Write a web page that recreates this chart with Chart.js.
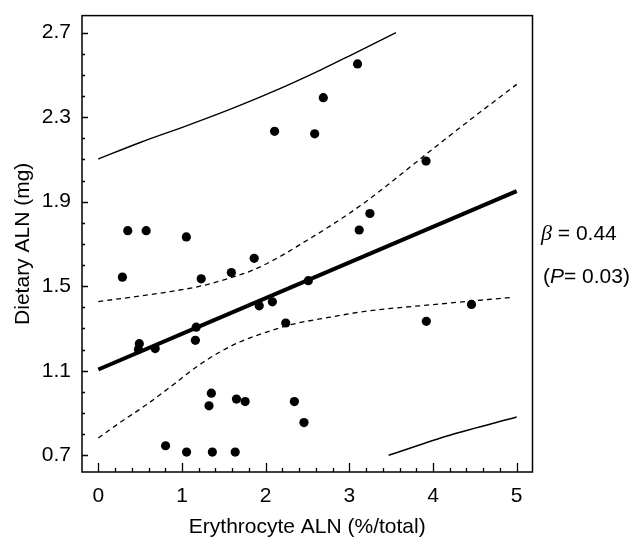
<!DOCTYPE html>
<html>
<head>
<meta charset="utf-8">
<script src="https://cdn.jsdelivr.net/npm/chart.js@4.4.1/dist/chart.umd.min.js"></script>
<style>
  html, body { margin: 0; padding: 0; background: #fff; }
</style>
</head>
<body>
<canvas id="aln_chart" width="644" height="538"></canvas>
<script>
// erythrocyte ALN (%/total) vs dietary ALN (mg), one point per subject
var erythrocyte_aln = [0.288, 0.352, 0.572, 1.052, 1.23, 0.49, 0.48, 0.68, 1.17, 1.16,
                       1.59, 1.863, 1.923, 2.08, 2.51, 2.24, 1.351, 1.323, 1.651, 1.755,
                       2.343, 0.804, 1.055, 1.363, 1.636, 2.458, 3.917, 3.246, 3.118, 3.098,
                       2.689, 2.586, 2.107, 3.92, 4.46]
var dietary_aln = [1.543, 1.763, 1.763, 1.733, 1.535, 1.228, 1.20, 1.205, 1.306, 1.244,
                   1.565, 1.632, 1.407, 1.426, 1.526, 1.326, 0.994, 0.934, 0.966, 0.954,
                   0.954, 0.745, 0.715, 0.715, 0.715, 0.855, 2.092, 1.844, 1.766, 2.552,
                   2.392, 2.221, 2.233, 1.334, 1.414]

// fitted line
var fit_x = [0, 5]
var fit_y = [1.106, 1.95]

// confidence band of the fit (dashed)
var ci_upper_x = [0, 0.817, 1.215, 1.574, 1.853, 2.17, 2.41, 2.81, 3.208, 3.607, 3.926, 4.40, 5.0]
var ci_upper_y = [1.427, 1.472, 1.50, 1.539, 1.577, 1.64, 1.697, 1.795, 1.903, 2.026, 2.127, 2.274, 2.455]
var ci_lower_x = [0, 0.26, 0.578, 0.896, 1.176, 1.454, 1.69, 2.01, 2.33, 2.65, 3.208, 4.0, 4.96]
var ci_lower_y = [0.782, 0.855, 0.94, 1.034, 1.119, 1.189, 1.236, 1.283, 1.321, 1.345, 1.382, 1.413, 1.448]

// prediction band (solid thin)
var pi_upper_x = [0, 0.5, 1.06, 1.58, 2.1, 2.66, 3.02, 3.557]
var pi_upper_y = [2.102, 2.18, 2.26, 2.338, 2.423, 2.524, 2.594, 2.70]
var pi_lower_x = [3.47, 4.2, 5.0]
var pi_lower_y = [0.70, 0.795, 0.881]

var x_ticks = [0, 1, 2, 3, 4, 5]
var y_ticks = [0.7, 1.1, 1.5, 1.9, 2.3, 2.7]

var stat_beta = '0.44'
var stat_p = '0.03'

function pairs(xs, ys) {
    var out = []
    for (let i = 0; i < xs.length; i++) {
        out.push({x: xs[i], y: ys[i]})
    }
    return out
}

var font_name = '"Liberation Sans", Arial, Helvetica, sans-serif'

function lineSet(pts, width, dash) {
    return {
        type: 'line',
        data: pts,
        borderColor: '#000',
        borderWidth: width,
        borderDash: dash,
        pointRadius: 0,
        fill: false,
        cubicInterpolationMode: 'monotone',
        order: 2
    }
}

// box round the plot, inward tick marks, beta / P text
const framePlugin = {
    id: 'frame',
    afterDraw(chart) {
        const ctx = chart.ctx
        const a = chart.chartArea
        const xs = chart.scales.x
        const ys = chart.scales.y
        ctx.save()
        ctx.strokeStyle = '#000'
        ctx.lineWidth = 1.5
        ctx.strokeRect(a.left, a.top, a.right - a.left, a.bottom - a.top)

        ctx.lineWidth = 1.3
        ctx.beginPath()
        for (let i = 0; i <= 25; i++) {
            var v = i * 0.2
            var px = Math.round(xs.getPixelForValue(v)) + 0.5
            var len = (i % 5 === 0) ? 9 : 4
            ctx.moveTo(px, a.bottom)
            ctx.lineTo(px, a.bottom - len)
        }
        for (let i = 0; i <= 20; i++) {
            var v = 0.7 + i * 0.1
            var py = Math.round(ys.getPixelForValue(v)) + 0.5
            var len = (i % 4 === 0) ? 6 : 3
            ctx.moveTo(a.left, py)
            ctx.lineTo(a.left + len, py)
        }
        ctx.stroke()

        ctx.fillStyle = '#000'
        ctx.textBaseline = 'alphabetic'
        ctx.textAlign = 'left'
        var x0 = 541
        ctx.font = 'italic 22px "Liberation Serif", "DejaVu Serif", serif'
        ctx.fillText('\u03b2', x0, 239.5)
        var bw = ctx.measureText('\u03b2').width
        ctx.font = '21px ' + font_name
        ctx.fillText(' = ' + stat_beta, x0 + bw, 239.5)

        var x1 = 543
        ctx.fillText('(', x1, 282.5)
        var w1 = ctx.measureText('(').width
        ctx.font = 'italic 21px ' + font_name
        ctx.fillText('P', x1 + w1, 282.5)
        var w2 = ctx.measureText('P').width
        ctx.font = '21px ' + font_name
        ctx.fillText('= ' + stat_p + ')', x1 + w1 + w2, 282.5)
        ctx.restore()
    }
}

const data = {
    datasets: [
        {
            type: 'scatter',
            data: pairs(erythrocyte_aln, dietary_aln),
            backgroundColor: '#000',
            borderWidth: 0,
            pointRadius: 4.6,
            order: 1
        },
        lineSet(pairs(fit_x, fit_y), 4, []),
        lineSet(pairs(ci_upper_x, ci_upper_y), 1.3, [5, 4]),
        lineSet(pairs(ci_lower_x, ci_lower_y), 1.3, [5, 4]),
        lineSet(pairs(pi_upper_x, pi_upper_y), 1.4, []),
        lineSet(pairs(pi_lower_x, pi_lower_y), 1.4, [])
    ]
}

const config = {
    type: 'scatter',
    data: data,
    plugins: [framePlugin],
    options: {
        responsive: false,
        animation: false,
        layout: {
            padding: {left: 0, top: 8, right: 111.5, bottom: 0}
        },
        plugins: {
            legend: { display: false },
            tooltip: { enabled: false },
            title: { display: false }
        },
        scales: {
            x: {
                type: 'linear',
                min: -0.1948,
                max: 5.189,
                grid: { display: false },
                border: { display: false },
                afterBuildTicks: function(scale) {
                    scale.ticks = x_ticks.map(v => ({value: v}))
                },
                afterFit: function(scale) { scale.height = 66 },
                ticks: {
                    color: '#000',
                    padding: 4,
                    maxRotation: 0,
                    font: { family: font_name, size: 21 },
                    callback: v => String(v)
                },
                title: {
                    display: true,
                    text: 'Erythrocyte ALN (%/total)',
                    color: '#000',
                    font: { family: font_name, size: 21, lineHeight: 1 },
                    padding: { top: 0.5, bottom: 0 }
                }
            },
            y: {
                type: 'linear',
                min: 0.6209,
                max: 2.7805,
                grid: { display: false },
                border: { display: false },
                afterBuildTicks: function(scale) {
                    scale.ticks = y_ticks.map(v => ({value: v}))
                },
                afterFit: function(scale) { scale.width = 82 },
                ticks: {
                    color: '#000',
                    padding: 3,
                    font: { family: font_name, size: 21 },
                    callback: v => v.toFixed(1)
                },
                title: {
                    display: true,
                    text: 'Dietary ALN (mg)',
                    color: '#000',
                    font: { family: font_name, size: 21, lineHeight: 1 },
                    padding: { top: 12.5, bottom: 0 }
                }
            }
        }
    }
}

const myChart = new Chart(
    document.getElementById('aln_chart'),
    config
)
</script>
</body>
</html>
